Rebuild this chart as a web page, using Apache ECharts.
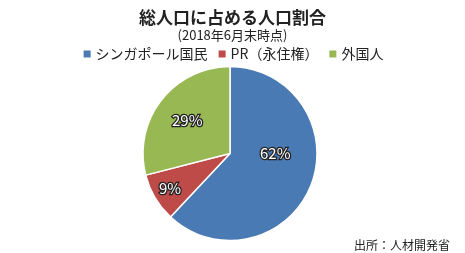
<!DOCTYPE html>
<html><head><meta charset="utf-8">
<script src="https://cdn.jsdelivr.net/npm/echarts@6/dist/echarts.min.js"></script>
<style>html,body{margin:0;padding:0;background:#fff}#c{width:465px;height:253px}</style>
</head><body><div id="c"></div>
<script>
const categories = ['シンガポール国民', 'PR（永住権）', '外国人'];
const values = [62, 9, 29];
const colors = ['#4a7ab4', '#be4b48', '#97b853'];
const labelShift = [[2, -16], [-20, 12], [-6, -4]];
const FONT = '"Noto Sans CJK JP", "Noto Sans", sans-serif';
const chart = echarts.init(document.getElementById('c'));
chart.setOption({
  animation: false,
  title: [
    { text: '総人口に占める人口割合', left: 'center', top: 4,
      textStyle: { fontFamily: FONT, fontSize: 17, fontWeight: 'bold', color: '#222' } },
    { text: '(2018年6月末時点)', left: 'center', top: 24,
      textStyle: { fontFamily: FONT, fontSize: 13, fontWeight: 'normal', color: '#222' } },
    { text: '出所：人材開発省', right: 10, top: 234,
      textStyle: { fontFamily: FONT, fontSize: 12, fontWeight: 'normal', color: '#222' } }
  ],
  legend: {
    data: categories, top: 42, left: 'center', itemWidth: 9, itemHeight: 9, itemGap: 9,
    icon: 'rect',
    textStyle: { fontFamily: FONT, fontSize: 14, color: '#222', padding: [0, 0, 0, -1] }
  },
  series: [{
    type: 'pie', center: [230, 153.5], radius: 87, startAngle: 90, clockwise: true,
    data: categories.map((n, i) => ({ name: n, value: values[i], itemStyle: { color: colors[i] } })),
    itemStyle: { borderColor: '#fff', borderWidth: 1.5 },
    label: { position: 'inside', formatter: '{c}%', color: '#fff', fontFamily: FONT, fontSize: 15,
      textBorderColor: '#222', textBorderWidth: 2.5 },
    labelLayout: p => ({ dx: labelShift[p.dataIndex][0], dy: labelShift[p.dataIndex][1] - 1 }),
    labelLine: { show: false }, emphasis: { disabled: true }
  }]
});
</script></body></html>
